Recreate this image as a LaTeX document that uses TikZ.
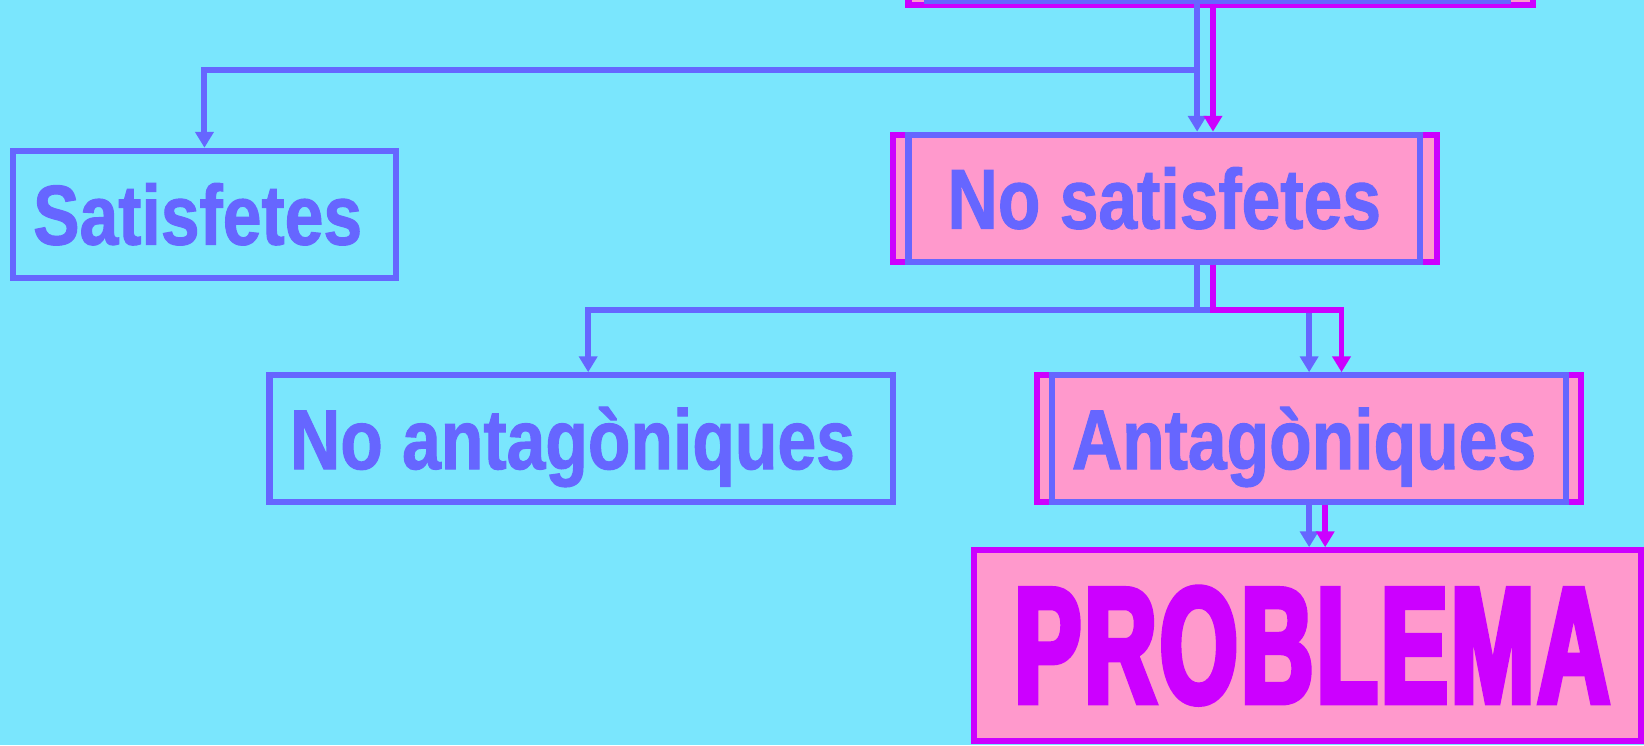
\documentclass[tikz,border=0pt]{standalone}
\usepackage{fontspec}
\usepackage{graphicx}
\setmainfont{Liberation Sans}
\newfontfamily\labfont{Liberation Sans}[FakeStretch=0.82,FakeBold=1.2]
\newfontfamily\bigfont{Liberation Sans}[FakeStretch=0.6,FakeBold=3.5]
\usetikzlibrary{arrows.meta}
\definecolor{bgc}{RGB}{122,230,253}
\definecolor{blc}{RGB}{102,102,255}
\definecolor{mgc}{RGB}{204,0,255}
\definecolor{pkc}{RGB}{255,153,204}
\begin{document}
\begin{tikzpicture}[x=1pt,y=1pt,
  bframe/.style={draw=blc, line width=5.8pt, inner sep=0pt, minimum height=121pt,
    text=blc, font=\labfont\bfseries\fontsize{81}{81}\selectfont, text height=58pt, text depth=0pt},
  mframe/.style={draw=mgc, fill=pkc, line width=5.8pt, inner sep=0pt, minimum height=121pt},
  bline/.style={draw=blc, line width=5.8pt},
  mline/.style={draw=mgc, line width=5.5pt},
  tip/.style={-{Triangle[width=17pt,length=15pt]}}
]
\path[fill=bgc, use as bounding box] (0,0) rectangle (1568,-711);

% top (cut-off) box
\node[mframe, minimum width=596pt, minimum height=200pt, anchor=south] (topO) at (1164.5,-8) {};
\node[bframe, fill=pkc, minimum width=554pt, minimum height=200pt, anchor=south] (top) at (1161.5,-4) {};

% boxes
\node[bframe, minimum width=366pt] (sat) at (195,-204.3) {Satisfetes\hspace*{13pt}};
\node[mframe, minimum width=519pt] (nsO) at (1111,-189) {};
\node[bframe, minimum width=488pt] (ns) at (1110.5,-189) {No satisfetes};
\node[bframe, minimum width=595pt] (na) at (554.5,-418.4) {No antagòniques\hspace*{17pt}};
\node[mframe, minimum width=519pt] (agO) at (1248.3,-418.4) {};
\node[bframe, minimum width=490pt] (ag) at (1248.7,-418.4) {Antagòniques\hspace*{10pt}};
\node[mframe, minimum width=636pt, minimum height=182pt, text=mgc] (pb) at (1247,-615.8)
  {\hspace*{9pt}\resizebox{568pt}{110pt}{\bigfont\bfseries\fontsize{155}{155}\selectfont P\kern3pt R\kern3pt O\kern3pt B\kern3pt L\kern3pt E\kern3pt M\kern3pt A}};

% helper coordinates
\coordinate (xb) at (1141.8,0);
\coordinate (xm) at (1156.9,0);
\coordinate (xna) at (561,0);
\coordinate (xam) at (1279.5,0);
\coordinate (xpb) at (1248.6,0);
\coordinate (xpm) at (1263.9,0);
\coordinate (j1) at (1141.8,-66.8);
\coordinate (j2) at (1141.8,-295.7);
\coordinate (j3) at (1156.9,-295.7);

% blue connectors
\draw[bline, tip] (top.south -| xb) -- (ns.north -| xb);
\draw[bline, tip] (j1) -| (sat.north);
\draw[bline] (ns.south -| xb) -- (j2);
\draw[bline, tip] (j2) -| (na.north -| xna);
\draw[bline, tip] (j2) -| (ag.north -| xpb);
\draw[bline, tip] (ag.south -| xpb) -- (pb.north -| xpb);

% magenta connectors
\draw[mline, tip] (topO.south -| xm) -- (nsO.north -| xm);
\draw[mline, tip] (nsO.south -| xm) -- (j3) -| (agO.north -| xam);
\draw[mline, tip] (agO.south -| xpm) -- (pb.north -| xpm);
\end{tikzpicture}
\end{document}
